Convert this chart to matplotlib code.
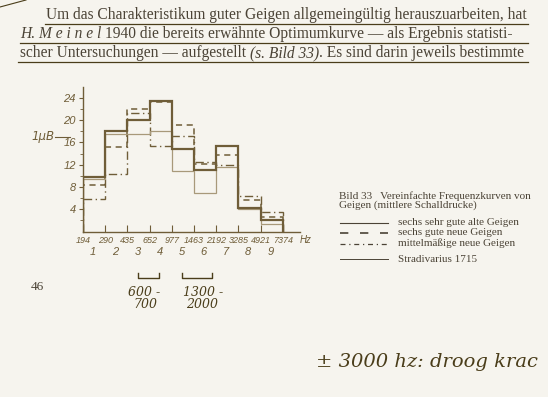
import matplotlib
matplotlib.use("Agg")
import matplotlib.pyplot as plt
from matplotlib.lines import Line2D

# frequency band edges (Hz) and band numbers
edges_hz = ["194", "290", "435", "652", "977", "1463", "2192", "3285", "4921", "7374"]
band_no = ["1", "2", "3", "4", "5", "6", "7", "8", "9"]

# mean sound pressure per band
alte = [9.8, 18.1, 20.0, 23.5, 14.8, 11.0, 15.4, 4.2, 2.1]      # sechs sehr gute alte Geigen
neue = [8.4, 15.2, 22.0, 23.2, 19.1, 12.2, 13.7, 5.7, 2.7]      # sechs gute neue Geigen
mittel = [5.8, 10.3, 21.2, 15.4, 17.2, 12.5, 12.0, 6.4, 3.5]    # mittelmaessige neue Geigen
strad = [9.5, 17.6, 17.6, 18.1, 10.9, 6.9, 11.6, 4.0, 1.3]     # Stradivarius 1715

W, H = 548, 397
bg = "#f6f4ee"
ink = "#4b4336"
brown = "#6f5d38"
light = "#a8997a"
hand = "#4a3d1a"

fig = plt.figure(figsize=(W / 100, H / 100), dpi=100, facecolor=bg)


def fx(x):
    return x / W


def fy(y):
    return 1 - y / H


def ftext(x, y, s, **kw):
    return fig.text(fx(x), fy(y), s, **kw)


# --- header text of the page ---
serif = "Liberation Serif"
hs = 11.2
renderer = fig.canvas.get_renderer()


def run(x, y, parts):
    # draw consecutive pieces of text (normal / italic) on one line
    for s, style in parts:
        t = ftext(x, y, s, fontsize=hs, family=serif, style=style, color=ink,
                  va="center", ha="left")
        bb = t.get_window_extent(renderer)
        x += bb.width


run(46, 15, [("Um das Charakteristikum guter Geigen allgemeingültig herauszuarbeiten, hat", "normal")])
run(20, 34, [("H. M e i n e l", "italic"), (" 1940 die bereits erwähnte Optimumkurve — als Ergebnis statisti-", "normal")])
run(20, 53, [("scher Untersuchungen — aufgestellt ", "normal"), ("(s. Bild 33)", "italic"),
             (". Es sind darin jeweils bestimmte", "normal")])

for x0, x1, y in [(45, 528, 24), (20, 528, 43), (18, 528, 62)]:
    fig.add_artist(Line2D([fx(x0), fx(x1)], [fy(y), fy(y)], color=hand, lw=0.9))
fig.add_artist(Line2D([fx(0), fx(26)], [fy(7), fy(0)], color=hand, lw=0.8))

# --- the chart ---
ax = fig.add_axes([fx(83), fy(231.6), fx(300) - fx(83), fy(86.7) - fy(231.6)])
ax.set_facecolor("none")
ax.set_xlim(0, 9.78)
ax.set_ylim(0, 26)
pos = list(range(len(edges_hz)))

ax.stairs(mittel, pos, baseline=0, color=brown, lw=1.0, linestyle=(0, (6, 2.5, 1, 2.5)))
ax.stairs(neue, pos, baseline=0, color=brown, lw=1.1, linestyle=(0, (4, 3)))
ax.stairs(strad, pos, baseline=0, color=light, lw=0.9)
ax.stairs(alte, pos, baseline=0, color=brown, lw=1.6)

for sp in ["top", "right"]:
    ax.spines[sp].set_visible(False)
for sp in ["left", "bottom"]:
    ax.spines[sp].set_color(brown)
    ax.spines[sp].set_linewidth(1.0)

sans = "Liberation Sans"
ax.set_xticks(pos)
ax.set_xticklabels(edges_hz)
ax.tick_params(axis="x", direction="in", length=5, color=brown, pad=3,
               labelsize=6.5, labelcolor=brown)
for lab in ax.get_xticklabels():
    lab.set_style("italic")
    lab.set_family(sans)
ax.set_yticks([4, 8, 12, 16, 20, 24])
ax.set_yticks(range(2, 26, 2), minor=True)
ax.tick_params(axis="y", direction="out", length=3, color=brown, pad=2,
               labelsize=8, labelcolor=brown)
ax.tick_params(axis="y", which="minor", direction="out", length=2.5, color=brown)
for lab in ax.get_yticklabels():
    lab.set_style("italic")
    lab.set_family(sans)

for i, n in enumerate(band_no):
    ax.text(i + 0.45, -3.7, n, ha="center", va="center", fontsize=8,
            style="italic", color=brown, family=sans)
ftext(306, 240, "Hz", fontsize=7, style="italic", color=brown, va="center", ha="center",
      family=sans)

ftext(43, 137, "1μB", fontsize=8.5, style="italic", color=brown, va="center", ha="center")
fig.add_artist(Line2D([fx(55), fx(70)], [fy(137), fy(137)], color=brown, lw=0.8))

# --- legend block ---
ls = 8.0
ftext(339, 196, "Bild 33   Vereinfachte Frequenzkurven von", fontsize=ls, family=serif,
      color=ink, va="center")
ftext(339, 205, "Geigen (mittlere Schalldrucke)", fontsize=ls, family=serif,
      color=ink, va="center")
entries = [
    ("sechs sehr gute alte Geigen", "-", 0.8, 222.5),
    ("sechs gute neue Geigen", (0, (5, 7)), 1.2, 233),
    ("mittelmäßige neue Geigen", (0, (4, 3, 1, 3)), 0.9, 243.5),
    ("Stradivarius 1715", "-", 0.7, 259),
]
for label, style, lw, y in entries:
    fig.add_artist(Line2D([fx(340), fx(388)], [fy(y), fy(y)], color=ink,
                          lw=lw, linestyle=style))
    ftext(398, y, label, fontsize=ls, family=serif, color=ink, va="center")

# --- page number and pencil notes ---
ftext(37, 287, "46", fontsize=9.5, family=serif, color=ink, va="center", ha="center")

for x0, x1 in [(138, 159), (182, 212)]:
    fig.add_artist(Line2D([fx(x0), fx(x0), fx(x1), fx(x1)],
                          [fy(273), fy(278), fy(278), fy(273)], color=hand, lw=1.0))
hkw = dict(fontsize=9, style="italic", color=hand, va="center", ha="center",
           family="DejaVu Serif")
ftext(144, 292, "600 -", **hkw)
ftext(145, 304, "700", **hkw)
ftext(203, 292, "1300 -", **hkw)
ftext(202, 304, "2000", **hkw)
ftext(316, 362, "± 3000 hz: droog krac", fontsize=14, style="italic", color=hand,
      va="center", ha="left", family="DejaVu Serif")

fig.savefig("out.png", dpi=100, facecolor=bg)
